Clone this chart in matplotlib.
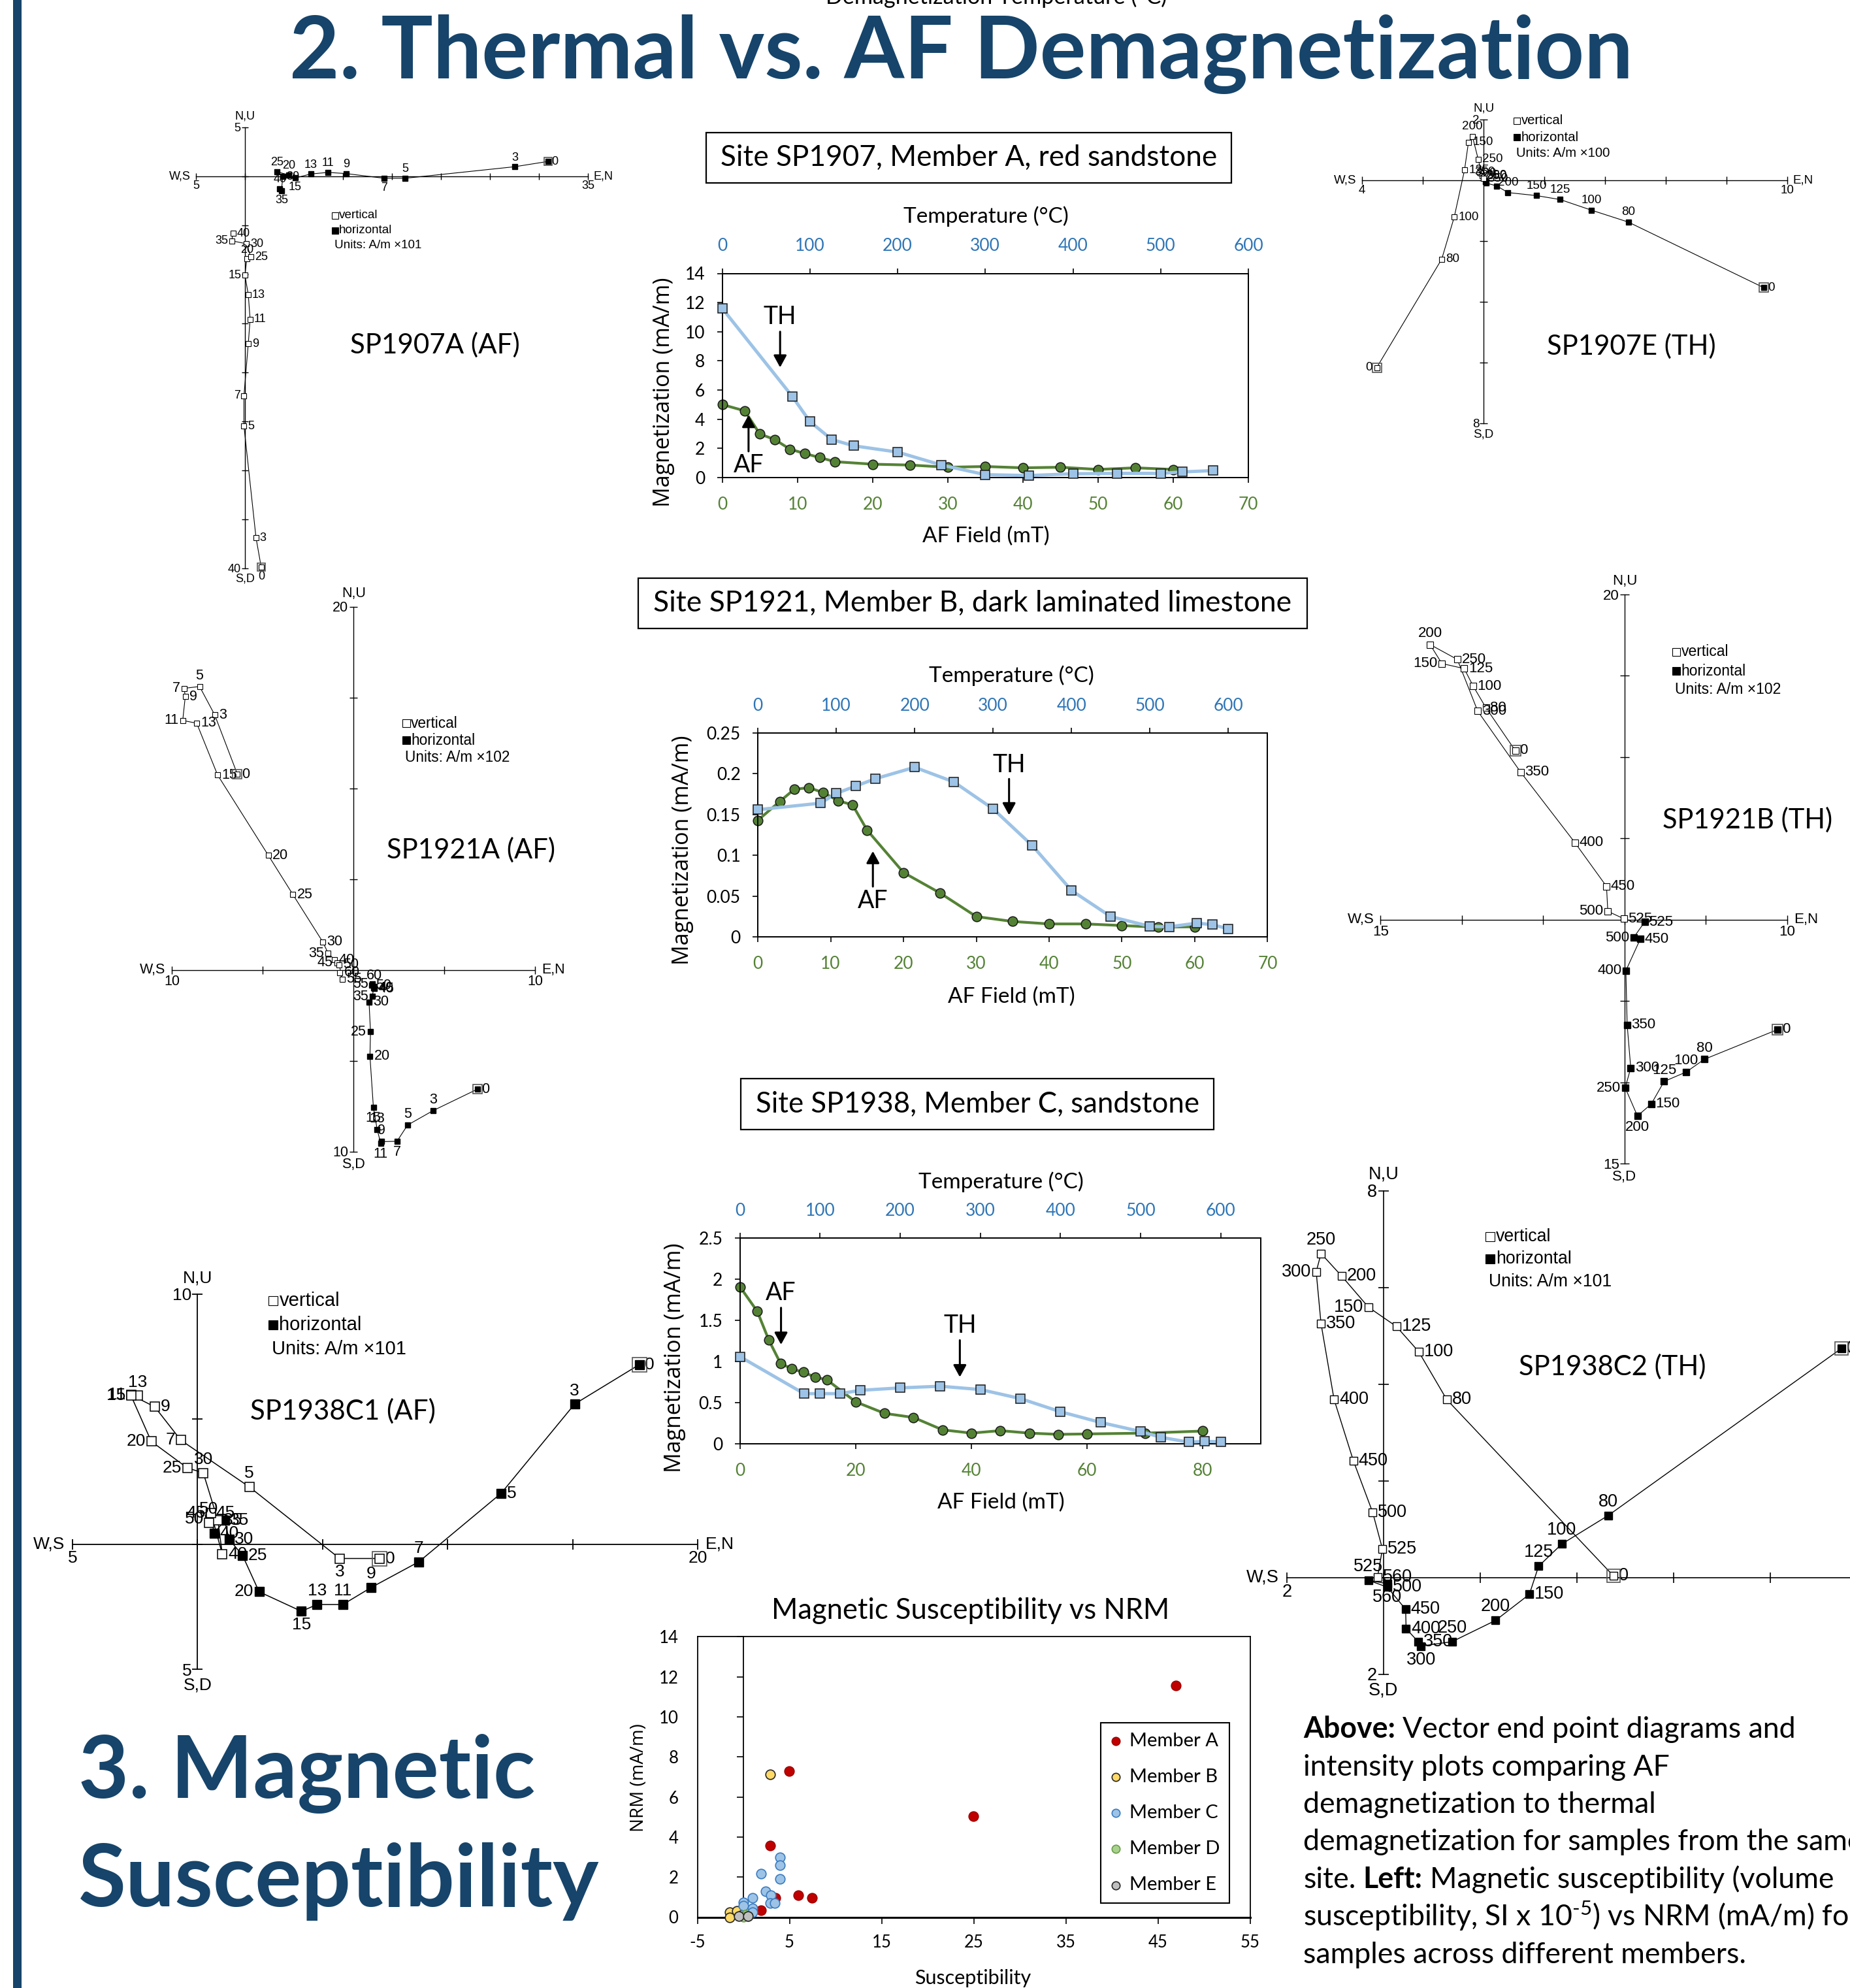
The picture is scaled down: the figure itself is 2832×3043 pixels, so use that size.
import numpy as np
import matplotlib
matplotlib.use("Agg")
import matplotlib.pyplot as plt
from matplotlib.patches import Rectangle
from matplotlib.lines import Line2D
from matplotlib.ticker import FuncFormatter

W, H = 2832, 3043
NAVY = "#16446A"
GREEN = "#548235"
BLUE_TXT = "#2E75B6"
BLUE_LN = "#9DC3E6"
ZFONT = "Liberation Sans"

plt.rcParams["font.family"] = ["Lato", "DejaVu Sans"]
plt.rcParams["axes.unicode_minus"] = False
plt.rcParams["mathtext.fontset"] = "custom"
plt.rcParams["mathtext.rm"] = "Lato"
plt.rcParams["mathtext.bf"] = "Lato:bold"
plt.rcParams["mathtext.it"] = "Lato:italic"

# ------------------------  Zijderveld data  ------------------------ #
# horizontal projection (filled) = h, vertical projection (open) = v

# SP1907A (AF, mT)
z07a_steps = [0, 3, 5, 7, 9, 11, 13, 15, 20, 25, 30, 35, 40]
z07a_hx = [30.9, 27.5, 16.3, 14.2, 10.3, 8.45, 6.69, 5.09, 4.46, 3.27, 3.83, 3.7, 3.52]
z07a_hy = [1.5, 0.96, -0.22, -0.22, 0.26, 0.38, 0.22, -0.19, 0.1, 0.45, -0.03, -1.5, -1.28]
z07a_vx = [1.63, 1.1, -0.13, -0.13, 0.31, 0.5, 0.31, -0.03, 0.16, 0.57, 0.13, -1.38, -1.26]
z07a_vy = [-39.9, -36.9, -25.5, -22.4, -17.1, -14.6, -12.1, -10.1, -8.45, -8.26, -6.9, -6.6, -5.86]

# SP1907E (TH, degC)
z07e_steps = [0, 80, 100, 125, 150, 200, 250, 300, 350]
z07e_hx = [9.22, 4.76, 3.55, 2.52, 1.74, 0.80, 0.43, 0.09, 0.05]
z07e_hy = [-3.54, -1.38, -0.99, -0.64, -0.51, -0.41, -0.19, -0.10, -0.06]
z07e_vx = [-3.52, -1.38, -0.97, -0.63, -0.50, -0.37, -0.18, -0.05, 0.0]
z07e_vy = [-6.17, -2.60, -1.22, 0.33, 1.25, 1.44, 0.69, 0.15, 0.05]

# SP1921A (AF, mT)
z21a_steps = [0, 3, 5, 7, 9, 11, 13, 15, 20, 25, 30, 35, 40, 45, 50, 55, 60]
z21a_hx = [6.82, 4.38, 2.97, 2.39, 1.53, 1.49, 1.30, 1.09, 0.90, 0.93, 0.85, 1.03, 1.11, 1.14, 0.98, 1.04, 1.14]
z21a_hy = [-6.57, -7.75, -8.55, -9.44, -9.46, -9.54, -8.8, -7.58, -4.75, -3.4, -1.77, -1.46, -0.99, -1.04, -0.85, -0.78, -0.91]
z21a_vx = [-6.4, -7.65, -8.48, -9.33, -9.27, -9.41, -8.64, -7.49, -4.7, -3.34, -1.7, -1.4, -1.04, -0.91, -0.79, -0.63, -0.75]
z21a_vy = [10.77, 14.04, 15.6, 15.5, 15.04, 13.73, 13.58, 10.73, 6.31, 4.14, 1.54, 0.91, 0.55, 0.38, 0.27, -0.51, -0.15]

# SP1921B (TH, degC)
z21b_steps = [0, 80, 100, 125, 150, 200, 250, 300, 350, 400, 450, 500, 525]
z21b_hx = [9.41, 4.9, 3.79, 2.43, 1.64, 0.79, 0.04, 0.38, 0.16, 0.08, 0.97, 0.55, 1.23]
z21b_hy = [-6.76, -8.59, -9.37, -9.95, -11.34, -12.07, -10.34, -9.12, -6.47, -3.14, -1.19, -1.12, -0.15]
z21b_vx = [-6.72, -8.52, -9.31, -9.86, -11.23, -11.96, -10.28, -9.03, -6.4, -3.06, -1.11, -1.03, -0.04]
z21b_vy = [10.39, 13.02, 14.36, 15.43, 15.74, 16.91, 15.99, 12.82, 9.08, 4.74, 2.04, 0.51, 0.05]

# SP1938C1 (AF, mT)
z38a_steps = [0, 3, 5, 7, 9, 11, 13, 15, 20, 25, 30, 35, 40, 45, 50]
z38a_hx = [17.66, 15.07, 12.14, 8.85, 6.94, 5.81, 4.78, 4.15, 2.46, 1.8, 1.26, 1.08, 0.67, 0.5, 0.49]
z38a_hy = [7.18, 5.6, 2.04, -0.7, -1.73, -2.41, -2.41, -2.68, -1.9, -0.45, 0.2, 0.96, 0.43, 1.24, 1.0]
z38a_vx = [7.28, 5.68, 2.07, -0.67, -1.71, -2.66, -2.39, -2.66, -1.85, -0.41, 0.23, 0.81, 0.99, 0.54, 0.45]
z38a_vy = [-0.57, -0.57, 2.29, 4.16, 5.49, 5.97, 5.94, 5.94, 4.11, 3.05, 2.85, 0.96, -0.4, 1.24, 0.85]

# SP1938C2 (TH, degC)
z38b_steps = [0, 80, 100, 125, 150, 200, 250, 300, 350, 400, 450, 500, 525, 560]
z38b_hx = [9.48, 4.65, 3.69, 3.21, 3.02, 2.32, 1.42, 0.78, 0.72, 0.47, 0.46, 0.08, -0.31, 0.08]
z38b_hy = [4.74, 1.28, 0.69, 0.23, -0.35, -0.89, -1.33, -1.42, -1.33, -1.06, -0.66, -0.2, -0.06, -0.13]
z38b_vx = [4.76, 1.31, 0.73, 0.27, -0.31, -0.86, -1.29, -1.39, -1.29, -1.02, -0.62, -0.22, -0.02, -0.12]
z38b_vy = [0.03, 3.68, 4.67, 5.19, 5.59, 6.23, 6.7, 6.32, 5.25, 3.68, 2.41, 1.34, 0.59, 0.01]

# ------------------------  intensity data  ------------------------ #
c07_af = [0, 3, 5, 7, 9, 11, 13, 15, 20, 25, 30, 35, 40, 45, 50, 55, 60]
c07_af_m = [5.0, 4.57, 2.98, 2.6, 1.94, 1.64, 1.36, 1.08, 0.91, 0.85, 0.70, 0.75, 0.66, 0.70, 0.55, 0.66, 0.55]
c07_th = [0, 80, 100, 125, 150, 200, 250, 300, 350, 400, 450, 500, 525, 560]
c07_th_m = [11.6, 5.55, 3.83, 2.6, 2.17, 1.74, 0.85, 0.19, 0.13, 0.25, 0.28, 0.28, 0.38, 0.47]

c21_af = [0, 3, 5, 7, 9, 11, 13, 15, 20, 25, 30, 35, 40, 45, 50, 55, 60]
c21_af_m = [0.143, 0.166, 0.181, 0.183, 0.177, 0.167, 0.162, 0.131, 0.079, 0.054, 0.025,
            0.019, 0.016, 0.016, 0.014, 0.012, 0.0125]
c21_th = [0, 80, 100, 125, 150, 200, 250, 300, 350, 400, 450, 500, 525, 560, 580, 600]
c21_th_m = [0.156, 0.164, 0.176, 0.185, 0.194, 0.208, 0.190, 0.157, 0.112, 0.057, 0.025,
            0.013, 0.0125, 0.017, 0.015, 0.010]

c38_af = [0, 3, 5, 7, 9, 11, 13, 15, 20, 25, 30, 35, 40, 45, 50, 55, 60, 70, 80]
c38_af_m = [1.91, 1.61, 1.26, 0.98, 0.91, 0.87, 0.81, 0.78, 0.51, 0.37, 0.32, 0.17, 0.13,
            0.16, 0.13, 0.115, 0.12, 0.13, 0.155]
c38_th = [0, 80, 100, 125, 150, 200, 250, 300, 350, 400, 450, 500, 525, 560, 580, 600]
c38_th_m = [1.06, 0.61, 0.61, 0.61, 0.65, 0.68, 0.70, 0.66, 0.55, 0.39, 0.26, 0.15, 0.08,
            0.02, 0.03, 0.025]

# ------------------------  susceptibility data  ------------------------ #
members = ["Member A", "Member B", "Member C", "Member D", "Member E"]
sus_x = [[46.95, 4.94, 24.96, 2.93, 5.97, 7.45, 3.46, 1.94],
         [2.93, -1.51, -1.46, -0.7, -0.16],
         [3.96, 3.96, 3.96, 1.94, 2.43, 2.97, 2.88, 3.42, 0.96, -0.03, 0.0, 0.96, 0.96],
         [0.2, 0.5, 0.0],
         [-0.52, 0.51]]
sus_y = [[11.58, 7.29, 5.03, 3.56, 1.08, 0.95, 0.95, 0.35],
         [7.13, 0.25, 0.0, 0.32, 0.13],
         [2.97, 2.61, 1.91, 2.16, 1.30, 1.08, 0.71, 0.71, 0.95, 0.74, 0.58, 0.43, 0.26],
         [0.13, 0.06, 0.03],
         [0.04, 0.04]]
sus_face = ["#C00000", "#FFD966", "#9DC3E6", "#A9D18E", "#BFBFBF"]
sus_edge = ["#A00000", "#262626", "#3A7CC0", "#6A9E48", "#262626"]

# caption lines as (text, bold) segments
caption = [[("Above:", True), ("Vector end point diagrams and", False)],
           [("intensity plots comparing AF", False)],
           [("demagnetization to thermal", False)],
           [("demagnetization for samples from the same", False)],
           [("site.", False), ("Left:", True), ("Magnetic susceptibility (volume", False)],
           [(r"susceptibility, SI x 10$^{\text{-5}}$) vs NRM (mA/m) for", False)],
           [("samples across different members.", False)]]

# ------------------------  figure  ------------------------ #
fig = plt.figure(figsize=(W / 100, H / 100), dpi=100)
renderer = fig.canvas.get_renderer()


def px_rect(x0, y0, x1, y1):
    return [x0 / W, 1 - y1 / H, (x1 - x0) / W, (y1 - y0) / H]


def ftxt(x, y, s, **kw):
    return fig.text(x / W, 1 - y / H, s, **kw)


def width_of(t):
    return t.get_window_extent(renderer).width


def fit(t, width):
    t.set_fontsize(t.get_fontsize() * width / width_of(t))
    return t


OFF = {"r": ((1, 0), "left", "center"), "l": ((-1, 0), "right", "center"),
       "a": ((0, 1), "center", "bottom"), "b": ((0, -1), "center", "top")}


def zijder(name, ox, oy, s, xlim, ylim, step, steps, hx, hy, vx, vy, hpos, vpos,
           fs, ms, lw, units, leg_xy, leg_fs, leg_dy, title_xy, title_w):
    ax = fig.add_axes(px_rect(ox + xlim[0] * s, oy - ylim[1] * s,
                              ox + xlim[1] * s, oy - ylim[0] * s))
    ax.set_xlim(*xlim)
    ax.set_ylim(*ylim)
    ax.patch.set_visible(False)
    ax.spines[["top", "right"]].set_visible(False)
    for side in ("left", "bottom"):
        ax.spines[side].set_position(("data", 0))
        ax.spines[side].set_linewidth(lw + 0.2)
    xt = np.arange(xlim[0], xlim[1] + 0.5 * step, step)
    yt = np.arange(ylim[0], ylim[1] + 0.5 * step, step)
    xl = [f"{abs(t):g}" if i in (0, len(xt) - 1) else "" for i, t in enumerate(xt)]
    yl = [f"{abs(t):g}" if i in (0, len(yt) - 1) else "" for i, t in enumerate(yt)]
    ax.set_xticks(xt, xl, fontfamily=ZFONT, fontsize=fs)
    ax.set_yticks(yt, yl, fontfamily=ZFONT, fontsize=fs)
    ax.tick_params(direction="inout", length=fs * 0.6, width=lw + 0.2, pad=1)

    ax.plot(hx, hy, color="black", lw=lw, marker="s", ms=ms, mfc="black", mec="black",
            clip_on=False, zorder=3)
    ax.plot(vx, vy, color="black", lw=lw, marker="s", ms=ms, mfc="white", mec="black",
            mew=lw, clip_on=False, zorder=3)
    ax.plot([hx[0], vx[0]], [hy[0], vy[0]], ls="none", marker="s", ms=ms * 1.7,
            mfc="none", mec="#555555", mew=1.2, clip_on=False, zorder=4)

    d = ms * 0.5 + 1.5
    for xs, ys, pos in ((hx, hy, hpos), (vx, vy, vpos)):
        for st, x, y, p in zip(steps, xs, ys, pos):
            (dx, dy), ha, va = OFF[p]
            ax.annotate(str(st), (x, y), xytext=(dx * d, dy * d), textcoords="offset points",
                        ha=ha, va=va, fontsize=fs, fontfamily=ZFONT, annotation_clip=False)

    kw = dict(textcoords="offset points", fontsize=fs, fontfamily=ZFONT, annotation_clip=False)
    g = fs * 0.45
    ax.annotate("W,S", (xlim[0], 0), xytext=(-g, 0), ha="right", va="center", **kw)
    ax.annotate("E,N", (xlim[1], 0), xytext=(g, 0), ha="left", va="center", **kw)
    ax.annotate("N,U", (0, ylim[1]), xytext=(0, g), ha="center", va="bottom", **kw)
    ax.annotate("S,D", (0, ylim[0]), xytext=(0, -g), ha="center", va="top", **kw)

    lx, ly = leg_xy
    for i, (mfc, txt) in enumerate([("white", "vertical"), ("black", "horizontal")]):
        fig.add_artist(Line2D([lx / W], [1 - (ly + i * leg_dy) / H], ls="none", marker="s",
                              ms=leg_fs * 0.5, mfc=mfc, mec="black", mew=0.8,
                              transform=fig.transFigure))
        ftxt(lx + leg_fs * 0.45, ly + i * leg_dy, txt, fontsize=leg_fs, fontfamily=ZFONT,
             ha="left", va="center")
    ftxt(lx - leg_fs * 0.1, ly + 2 * leg_dy, "Units: A/m \u00d7" + units, fontsize=leg_fs,
         fontfamily=ZFONT, ha="left", va="center")

    t = ftxt(title_xy[0], title_xy[1], name, fontsize=28, ha="center", va="center")
    fit(t, title_w)


def arrow(ax, x, y0, y1):
    ax.annotate("", xy=(x, y1), xytext=(x, y0),
                arrowprops=dict(arrowstyle="-|>,head_length=0.55,head_width=0.3",
                                color="black", lw=2.2, shrinkA=0, shrinkB=0,
                                mutation_scale=20))


def intensity(frame, box, title, title_w, af, af_m, th, th_m, af_lim, af_ticks, t_lim,
              y_lim, y_ticks, ylab_xy, tlab_xy, aflab_xy, notes):
    ax = fig.add_axes(px_rect(*frame))
    ax.set_xlim(*af_lim)
    ax.set_ylim(*y_lim)
    ax.set_xticks(af_ticks)
    ax.set_yticks(y_ticks)
    ax.yaxis.set_major_formatter(FuncFormatter(lambda v, p: f"{v:g}"))
    ax.tick_params(axis="x", labelcolor=GREEN, labelsize=19, length=6, width=1.2, pad=15)
    ax.tick_params(axis="y", labelsize=19, length=6, width=1.2, pad=13)
    for sp in ax.spines.values():
        sp.set_linewidth(1.3)
    ax2 = ax.twiny()
    ax2.set_xlim(*t_lim)
    ax2.set_xticks(range(0, 601, 100))
    ax2.tick_params(axis="x", labelcolor=BLUE_TXT, labelsize=19, length=6, width=1.2, pad=15)
    for sp in ax2.spines.values():
        sp.set_linewidth(1.3)

    ax.plot(af, af_m, color=GREEN, lw=3, marker="o", ms=10.5, mfc=GREEN, mec="#1a1a1a",
            mew=1.1, zorder=3, clip_on=False)
    ax2.plot(th, th_m, color=BLUE_LN, lw=3.6, marker="s", ms=10.5, mfc=BLUE_LN,
             mec="#1a1a1a", mew=1.1, zorder=3, clip_on=False)

    for txt, x, ty, y0, y1 in notes:
        ax.text(x, ty, txt, fontsize=27, ha="center", va="center")
        arrow(ax, x, y0, y1)

    x0, y0, x1, y1 = box
    fig.add_artist(Rectangle((x0 / W, 1 - y1 / H), (x1 - x0) / W, (y1 - y0) / H,
                             transform=fig.transFigure, fill=False, lw=1.6, ec="black"))
    t = ftxt((x0 + x1) / 2, (y0 + y1) / 2, title, fontsize=30, ha="center", va="center")
    fit(t, title_w)

    ftxt(*ylab_xy, "Magnetization (mA/m)", rotation=90, fontfamily="Open Sans",
         fontsize=24.5, ha="center", va="center")
    ftxt(*tlab_xy, "Temperature (\u00b0C)", fontsize=24, ha="center", va="center")
    ftxt(*aflab_xy, "AF Field (mT)", fontsize=24, ha="center", va="center")


# ---- background decorations ----
fig.add_artist(Rectangle((20 / W, 0), 13 / W, 1, transform=fig.transFigure,
                         color=NAVY, lw=0))
t = ftxt(1525, 6, "Demagnetization Temperature (\u00b0C)", fontsize=25, ha="center",
         va="baseline")
fit(t, 524)
t = ftxt(1471, 120, "2. Thermal vs. AF Demagnetization", fontsize=100, fontweight="bold",
         color=NAVY, ha="center", va="baseline")
fit(t, 2058)
t1 = ftxt(120, 2752, "3. Magnetic", fontsize=95, fontweight="bold", color=NAVY,
          ha="left", va="baseline")
t2 = ftxt(120, 2918, "Susceptibility", fontsize=95, fontweight="bold", color=NAVY,
          ha="left", va="baseline")
fit(t2, 798)
t1.set_fontsize(t2.get_fontsize())

# ---- Zijderveld diagrams ----
zijder("SP1907A (AF)", 375.4, 269.6, 15.0, (-5, 35), (-40, 5), 5,
       z07a_steps, z07a_hx, z07a_hy, z07a_vx, z07a_vy,
       "raabaaabaarba", "brrlrrrlarrlr",
       13, 5.2, 0.8, "101", (513, 330), 13.6, 22.5, (666, 528), 260)
zijder("SP1907E (TH)", 2271.2, 275.7, 46.5, (-4, 10), (-8, 2), 2,
       z07e_steps, z07e_hx, z07e_hy, z07e_vx, z07e_vy,
       "raaaaaaaa", "lrrrrarrr",
       13.5, 6.2, 0.8, "100", (2322, 185), 14.6, 25, (2497, 530), 258)
zijder("SP1921A (AF)", 541.3, 1484.5, 27.8, (-10, 10), (-10, 20), 5,
       z21a_steps, z21a_hx, z21a_hy, z21a_vx, z21a_vy,
       "raabababrlrlrrrlar", "rralrlrrrrrlrlrrr",
       15.5, 6.0, 0.8, "102", (622, 1107), 16.3, 26.4, (721, 1301), 258)
zijder("SP1921B (TH)", 2486.9, 1407.6, 24.9, (-15, 10), (-15, 20), 5,
       z21b_steps, z21b_hx, z21b_hy, z21b_vx, z21b_vy,
       "raaarblrrlrlr", "rrrrlarrrrrlr",
       16, 6.5, 0.8, "102", (2566, 998), 16.5, 29, (2675, 1255), 260)
zijder("SP1938C1 (AF)", 302.4, 2363.7, 38.3, (-5, 20), (-5, 10), 5,
       z38a_steps, z38a_hx, z38a_hy, z38a_vx, z38a_vy,
       "raraaaablrrrrrl", "rbalrlalllarrla",
       19, 9.5, 1.1, "101", (418, 1991), 21, 36.9, (525, 2160), 284)
zijder("SP1938C2 (TH)", 2117.7, 2414.5, 74.0, (-2, 10), (-2, 8), 2,
       z38b_steps, z38b_hx, z38b_hy, z38b_vx, z38b_vy,
       "raaaraabrrrrab", "rrrrlralrrrrrr",
       19.5, 8.5, 1.0, "101", (2281, 1893), 19.2, 34.3, (2468, 2092), 286)

# ---- intensity plots ----
intensity((1105.6, 418.5, 1911, 730.8), (1080.6, 202.6, 1885, 279.6),
          "Site SP1907, Member A, red sandstone", 758,
          c07_af, c07_af_m, c07_th, c07_th_m, (0, 70), range(0, 71, 10), (0, 600),
          (0, 14), range(0, 15, 2), (1016, 600), (1509, 331), (1509, 821),
          [("TH", 7.7, 11.0, 10.0, 7.55), ("AF", 3.5, 0.85, 1.79, 4.28)])
intensity((1160.1, 1122, 1940.4, 1434.2), (976.9, 885.2, 2001, 962.4),
          "Site SP1921, Member B, dark laminated limestone", 974,
          c21_af, c21_af_m, c21_th, c21_th_m, (0, 70), range(0, 71, 10), (0, 650),
          (0, 0.25), np.arange(0, 0.26, 0.05), (1044.5, 1301.5), (1548, 1034), (1548, 1526),
          [("TH", 34.5, 0.211, 0.1937, 0.1493), ("AF", 15.8, 0.0444, 0.0618, 0.1052)])
intensity((1132.7, 1895.3, 1930, 2210), (1133.9, 1651, 1858.3, 1728.9),
          "Site SP1938, Member C, sandstone", 678,
          c38_af, c38_af_m, c38_th, c38_th_m, (0, 90), range(0, 81, 20), (0, 650),
          (0, 2.5), np.arange(0, 2.51, 0.5), (1033, 2078), (1532, 1809.5), (1532, 2300),
          [("AF", 7.1, 1.836, 1.654, 1.206), ("TH", 38.0, 1.434, 1.259, 0.811)])

# ---- susceptibility scatter ----
axs = fig.add_axes(px_rect(1067.5, 2505.4, 1913.5, 2934.5))
axs.set_xlim(-5, 55)
axs.set_ylim(0, 14)
axs.set_xticks(range(-5, 56, 10))
axs.set_yticks(range(0, 15, 2))
axs.tick_params(axis="x", labelsize=18.5, length=7, width=1.2, pad=12)
axs.tick_params(axis="y", labelsize=18.5, length=0, pad=21)
for sp in axs.spines.values():
    sp.set_linewidth(1.3)
axs.spines["bottom"].set_linewidth(2.2)
sec = axs.secondary_yaxis(5 / 60)
sec.set_yticks(range(0, 15, 2))
sec.tick_params(axis="y", labelleft=False, length=7, width=1.2)
sec.spines["left"].set_linewidth(1.3)
for i, m in enumerate(members):
    axs.scatter(sus_x[i], sus_y[i], s=110, c=sus_face[i], edgecolors=sus_edge[i],
                linewidths=1.2, label=m, zorder=3 + i, clip_on=False)
axs.legend(loc="upper left", bbox_to_anchor=(1685 / W, 1 - 2637 / H),
           bbox_transform=fig.transFigure, fontsize=21, frameon=True, fancybox=False,
           edgecolor="black", framealpha=1, borderpad=0.5, labelspacing=1.0,
           handlelength=0.6, handletextpad=0.4, borderaxespad=0,
           markerscale=0.85).get_frame().set_linewidth(1.5)
t = ftxt(1486, 2466, "Magnetic Susceptibility vs NRM", fontsize=30, ha="center", va="center")
fit(t, 608)
ftxt(978, 2721, "NRM (mA/m)", rotation=90, fontfamily="Open Sans", fontsize=20,
     ha="center", va="center")
ftxt(1489, 3028, "Susceptibility", fontsize=22, ha="center", va="center")

# ---- caption ----
probe = ftxt(0, -500, "site. Left: Magnetic susceptibility (volume", fontsize=28)
cap_fs = 28 * 811 / width_of(probe)
probe.remove()
sp_a = ftxt(0, -500, "a a", fontsize=cap_fs)
sp_b = ftxt(0, -500, "aa", fontsize=cap_fs)
space = width_of(sp_a) - width_of(sp_b)
sp_a.remove()
sp_b.remove()
for i, parts in enumerate(caption):
    x = 1995
    for txt, bold in parts:
        seg = ftxt(x, 2660 + 57.5 * i, txt, fontsize=cap_fs, ha="left", va="baseline",
                   fontweight="bold" if bold else "normal")
        x += width_of(seg) + space

fig.savefig("out.png", dpi=100)
